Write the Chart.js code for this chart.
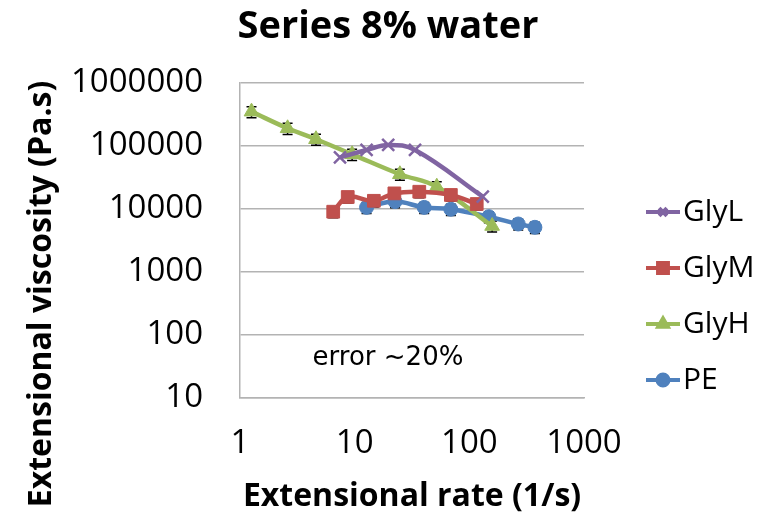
<!DOCTYPE html>
<html>
<head>
<meta charset="utf-8">
<script src="https://cdn.jsdelivr.net/npm/chart.js@4.4.1/dist/chart.umd.min.js"></script>
<style>
  body { margin: 0; background: #fff; }
  #wrap { width: 777px; height: 521px; }
</style>
</head>
<body>
<div id="wrap"><canvas id="viscChart"></canvas></div>
<script>
// Values
const seriesNames = ['GlyL', 'GlyM', 'GlyH', 'PE'];

const glyLRate = [7.45, 12.7, 19.6, 33.6, 131];
const glyLVisc = [66000, 86500, 104000, 86500, 15700];

const glyMRate = [6.5, 8.7, 14.7, 22.2, 36.6, 69, 116];
const glyMVisc = [9060, 15500, 13500, 17700, 18800, 16700, 12000];

const glyHRate = [1.26, 2.6, 4.6, 9.5, 24.8, 52, 158];
const glyHVisc = [351000, 191000, 128000, 73800, 35600, 22600, 5370];

const peRate = [12.7, 22.5, 40.4, 69, 148, 267, 373];
const peVisc = [10600, 13100, 10600, 9900, 7550, 5780, 5120];

const xTicks = [1, 10, 100, 1000];
const yTicks = [10, 100, 1000, 10000, 100000, 1000000];

const relError = 0.2; // "error ~20%"

const FONT = "'Open Sans', 'Noto Sans', sans-serif";

const toPoints = (xs, ys) => xs.map((x, i) => ({ x: x, y: ys[i] }));

// error bars, drawn under the markers
const errorBars = {
    id: 'errorBars',
    beforeDatasetsDraw(chart) {
        const { ctx, scales: { x, y } } = chart;
        ctx.save();
        ctx.strokeStyle = '#000';
        ctx.lineWidth = 1.5;
        chart.data.datasets.forEach((ds) => {
            if (!ds.errorBars) return;
            ds.data.forEach((p) => {
                const px = x.getPixelForValue(p.x);
                const top = y.getPixelForValue(p.y * (1 + relError));
                const bot = y.getPixelForValue(p.y * (1 - relError));
                ctx.beginPath();
                ctx.moveTo(px, top);
                ctx.lineTo(px, bot);
                ctx.moveTo(px - 5, top);
                ctx.lineTo(px + 5, top);
                ctx.moveTo(px - 5, bot);
                ctx.lineTo(px + 5, bot);
                ctx.stroke();
            });
        });
        ctx.restore();
    }
};

// title, legend, y axis title and note
const extras = {
    id: 'extras',
    afterDraw(chart) {
        const { ctx } = chart;
        ctx.save();

        ctx.fillStyle = '#000';
        ctx.font = 'bold 38px ' + FONT;
        ctx.textAlign = 'center';
        ctx.textBaseline = 'middle';
        ctx.fillText('Series 8% water', 388, 27);

        // legend on the right
        chart.data.datasets.forEach((ds, i) => {
            const ly = 212 + i * 56;
            ctx.strokeStyle = ds.borderColor;
            ctx.lineWidth = 4;
            ctx.beginPath();
            ctx.moveTo(646, ly);
            ctx.lineTo(680, ly);
            ctx.stroke();
            ctx.fillStyle = ds.pointBackgroundColor;
            ctx.strokeStyle = ds.pointBorderColor;
            Chart.helpers.drawPoint(ctx, {
                pointStyle: ds.pointStyle,
                radius: ds.pointStyle === 'rect' ? 7 : 5.5,
                borderWidth: ds.pointBorderWidth
            }, 663, ly);
            ctx.fillStyle = '#000';
            ctx.font = '30px ' + FONT;
            ctx.textAlign = 'left';
            ctx.textBaseline = 'middle';
            ctx.fillText(ds.label, 683, ly);
        });

        // y axis title
        ctx.translate(42, 294);
        ctx.rotate(-Math.PI / 2);
        ctx.fillStyle = '#000';
        ctx.font = 'bold 32px ' + FONT;
        ctx.textAlign = 'center';
        ctx.textBaseline = 'middle';
        ctx.fillText('Extensional viscosity (Pa.s)', 0, 0);
        ctx.setTransform(1, 0, 0, 1, 0, 0);

        // note
        ctx.font = "26px 'DejaVu Sans', sans-serif";
        ctx.textAlign = 'center';
        ctx.fillText('error ~20%', 388, 358);
        ctx.restore();
    }
};

const gridGray = '#b3b3b3';

new Chart(document.getElementById('viscChart'), {
    type: 'line',
    data: {
        datasets: [
            {
                label: seriesNames[0],
                data: toPoints(glyLRate, glyLVisc),
                borderColor: '#8064a2',
                backgroundColor: '#8064a2',
                pointBorderColor: '#8064a2',
                pointBackgroundColor: '#8064a2',
                pointStyle: 'crossRot',
                pointRadius: 8.5,
                pointBorderWidth: 2.5,
                errorBars: false
            },
            {
                label: seriesNames[1],
                data: toPoints(glyMRate, glyMVisc),
                borderColor: '#c0504d',
                backgroundColor: '#c0504d',
                pointBorderColor: '#c0504d',
                pointBackgroundColor: '#c0504d',
                pointStyle: 'rect',
                pointRadius: 9,
                pointBorderWidth: 1,
                errorBars: true
            },
            {
                label: seriesNames[2],
                data: toPoints(glyHRate, glyHVisc),
                borderColor: '#9bbb59',
                backgroundColor: '#9bbb59',
                pointBorderColor: '#9bbb59',
                pointBackgroundColor: '#9bbb59',
                pointStyle: 'triangle',
                pointRadius: 8.5,
                pointBorderWidth: 1,
                errorBars: true
            },
            {
                label: seriesNames[3],
                data: toPoints(peRate, peVisc),
                borderColor: '#4f81bd',
                backgroundColor: '#4f81bd',
                pointBorderColor: '#4f81bd',
                pointBackgroundColor: '#4f81bd',
                pointStyle: 'circle',
                pointRadius: 7,
                pointBorderWidth: 1,
                errorBars: true
            }
        ]
    },
    options: {
        responsive: true,
        maintainAspectRatio: false,
        animation: false,
        parsing: false,
        elements: {
            line: { borderWidth: 4.5, tension: 0.4 }
        },
        layout: { padding: { left: 0, right: 193, top: 83, bottom: 0 } },
        plugins: {
            legend: { display: false },
            tooltip: { enabled: false },
            title: { display: false }
        },
        scales: {
            x: {
                type: 'logarithmic',
                min: 1,
                max: 1000,
                afterBuildTicks: (scale) => { scale.ticks = xTicks.map(v => ({ value: v })); },
                afterFit: (scale) => { scale.height = 123; },
                grid: { display: false, drawTicks: false },
                border: { display: true, color: gridGray, width: 1.5 },
                ticks: {
                    color: '#000',
                    font: { family: FONT, size: 33 },
                    padding: 26,
                    autoSkip: false,
                    maxRotation: 0,
                    callback: (v) => String(v)
                },
                title: {
                    display: true,
                    text: 'Extensional rate (1/s)',
                    color: '#000',
                    font: { family: FONT, size: 32, weight: 'bold' },
                    padding: { top: 0, bottom: 4.8 }
                }
            },
            y: {
                type: 'logarithmic',
                min: 10,
                max: 1000000,
                afterBuildTicks: (scale) => { scale.ticks = yTicks.map(v => ({ value: v })); },
                afterFit: (scale) => { scale.width = 240; },
                grid: { color: gridGray, lineWidth: 1.5, drawTicks: false },
                border: { display: true, color: gridGray, width: 1.5 },
                ticks: {
                    color: '#000',
                    font: { family: FONT, size: 33 },
                    padding: 37,
                    autoSkip: false,
                    callback: (v) => String(v)
                }
            }
        }
    },
    plugins: [errorBars, extras]
});
</script>
</body>
</html>
